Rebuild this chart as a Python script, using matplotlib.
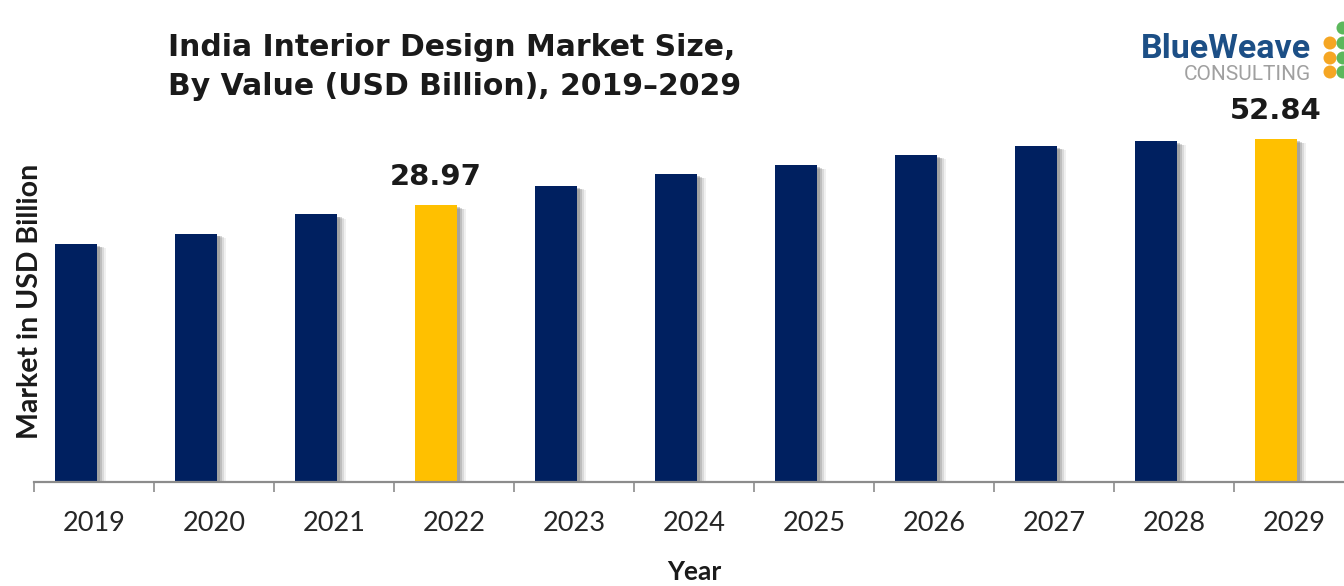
import matplotlib

matplotlib.use("Agg")
import matplotlib.pyplot as plt
import matplotlib.patheffects as pe
from matplotlib.patches import Circle
import numpy as np

# market size per year (USD billion)
years = ["2019", "2020", "2021", "2022", "2023", "2024", "2025", "2026", "2027", "2028", "2029"]
values = [14.9, 18.7, 25.6, 28.97, 35.9, 40.2, 43.4, 47.1, 50.4, 52.1, 52.84]
labelled_years = ["2022", "2029"]

NAVY = "#002060"
GOLD = "#FFC000"
GRID_GRAY = "#8c8c8c"

# value axis floor sits below zero, so bars are stacked up from it
y_floor = -71.2
y_top = 67.0

W, H = 1344, 586
fig = plt.figure(figsize=(W / 100, H / 100), dpi=100)
ax = fig.add_axes([34 / W, 104 / H, 1320 / W, 382 / H])

x = np.arange(len(years))
vals = np.array(values)
colors = [GOLD if y in labelled_years else NAVY for y in years]

shadow = [
    pe.SimplePatchShadow(offset=(6.5, -3), shadow_rgbFace="#a0a0a0", alpha=0.15),
    pe.SimplePatchShadow(offset=(5, -2.5), shadow_rgbFace="#909090", alpha=0.22),
    pe.SimplePatchShadow(offset=(3.5, -2), shadow_rgbFace="#808080", alpha=0.3),
    pe.SimplePatchShadow(offset=(2, -1.5), shadow_rgbFace="#707070", alpha=0.35),
    pe.Normal(),
]
bars = ax.bar(x - 0.15, vals - y_floor, bottom=y_floor, width=0.35,
              color=colors, linewidth=0)
for b in bars:
    b.set_path_effects(shadow)

# value labels on the highlighted years
for xi, yr, v in zip(x, years, vals):
    if yr in labelled_years:
        ax.annotate(f"{v:.2f}", (xi - 0.15, v), xytext=(0, 14.5),
                    textcoords="offset points", ha="center", va="baseline",
                    fontsize=21, fontweight="bold", family="DejaVu Sans",
                    color="#1a1a1a")

ax.set_xlim(-0.5, len(years) - 0.5)
ax.set_ylim(y_floor, y_top)

for s in ["top", "right", "left"]:
    ax.spines[s].set_visible(False)
ax.spines["bottom"].set_color(GRID_GRAY)
ax.spines["bottom"].set_linewidth(1.6)
ax.set_yticks([])

ax.set_xticks(x)
ax.set_xticklabels(years, fontsize=19.5, family="Lato", color="#262626")
ax.tick_params(axis="x", which="major", length=0, pad=21)
ax.set_xticks(np.arange(-0.5, len(years), 1), minor=True)
ax.tick_params(axis="x", which="minor", length=7, width=1.2, color=GRID_GRAY,
               direction="out")

ax.set_xlabel("Year", fontsize=19, fontweight="bold", family="Lato",
              color="#1a1a1a", labelpad=17)

fig.text(30 / W, 1 - 301 / H, "Market in USD Billion", rotation=90,
         ha="center", va="center", fontsize=20.5, fontweight="bold",
         family="Lato", color="#1a1a1a")

fig.text(168 / W, 1 - 33 / H,
         "India Interior Design Market Size,\nBy Value (USD Billion), 2019–2029",
         ha="left", va="top", fontsize=21.5, fontweight="bold",
         family="DejaVu Sans", color="#1a1a1a", linespacing=1.42)

# company logo, top right
fig.text(1311 / W, 1 - 58 / H, "BlueWeave", ha="right", va="baseline",
         fontsize=24.5, fontweight="bold", family="Roboto", color="#1c4f86")
fig.text(1311 / W, 1 - 80 / H, "CONSULTING", ha="right", va="baseline",
         fontsize=15, family="Roboto", color="#a0a0a0")
dots = [(1330, 43, "#f5a623"), (1330, 58, "#f5a623"), (1330, 72, "#f5a623"),
        (1343, 28, "#5cb85c"), (1343, 43, "#5cb85c"), (1343, 58, "#5cb85c"),
        (1343, 72, "#5cb85c")]
for cx, cy, col in dots:
    fig.add_artist(Circle((cx / 100, (H - cy) / 100), 0.065,
                          transform=fig.dpi_scale_trans, color=col,
                          linewidth=0))

fig.savefig("out.png", dpi=100)
